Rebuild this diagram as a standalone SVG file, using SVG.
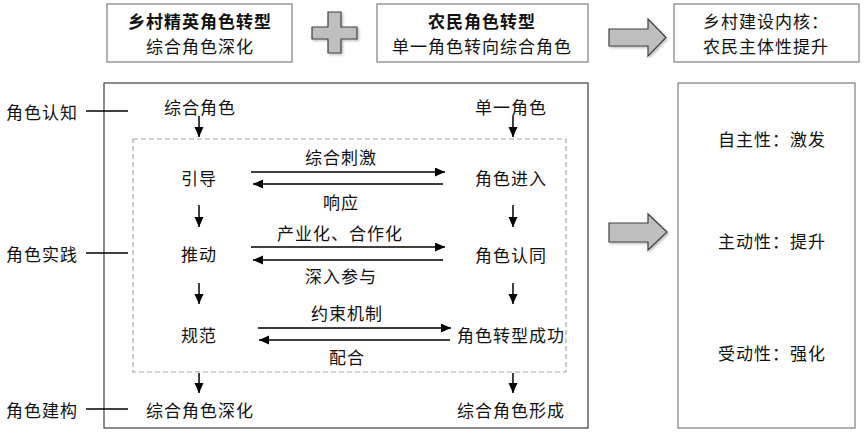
<svg xmlns="http://www.w3.org/2000/svg" width="864" height="437" viewBox="0 0 864 437">
<style>
text{font-family:"Noto Sans CJK SC","Noto Sans",sans-serif;font-size:17px;fill:#111;text-anchor:middle;dominant-baseline:central;letter-spacing:1px}
.b{font-weight:bold}
.box{fill:#fff;stroke:#7f7f7f;stroke-width:1.2}
.main{fill:#fff;stroke:#404040;stroke-width:1.2}
.dash{fill:none;stroke:#a6a6a6;stroke-width:1.2;stroke-dasharray:5,3}
.shape{fill:#bfbfbf;stroke:#404040;stroke-width:1.2}
.ln{stroke:#000;stroke-width:1.5;fill:none}
.arr{stroke:#000;stroke-width:1.5;fill:none;marker-end:url(#ah)}
</style>
<defs>
<marker id="ah" markerUnits="userSpaceOnUse" markerWidth="11" markerHeight="10" refX="10" refY="4.5" orient="auto">
<path d="M0,0 L10,4.5 L0,9 z" fill="#000"/>
</marker>
<filter id="sh" x="-20%" y="-20%" width="150%" height="150%">
<feDropShadow dx="1.5" dy="1.5" stdDeviation="1" flood-color="#000" flood-opacity="0.25"/>
</filter>
</defs>
<rect width="864" height="437" fill="#fff"/>

<g id="n-elite">
<rect class="box" x="107" y="4" width="185" height="58"/>
<text class="b" x="200" y="20">乡村精英角色转型</text>
<text x="200" y="45">综合角色深化</text>
</g>
<g id="plus">
<path class="shape" filter="url(#sh)" d="M328,12 H341 V27 H357 V39 H341 V53 H328 V39 H312 V27 H328 Z"/>
</g>
<g id="n-farmer">
<rect class="box" x="377" y="4" width="211" height="58"/>
<text class="b" x="482" y="20">农民角色转型</text>
<text x="482" y="45">单一角色转向综合角色</text>
</g>
<g id="arrow-top">
<path class="shape" filter="url(#sh)" d="M609,29 H648 V19 L666,37.5 L648,56 V46 H609 Z"/>
</g>
<g id="n-core">
<rect class="box" x="674" y="4" width="185" height="58"/>
<text x="766" y="20">乡村建设内核：</text>
<text x="766" y="45">农民主体性提升</text>
</g>

<g id="main-box">
<rect class="main" x="104" y="83" width="484" height="345"/>
<rect class="dash" x="133" y="139" width="433" height="233"/>
</g>

<g id="stage-labels">
<text x="42" y="111">角色认知</text>
<text x="42" y="253">角色实践</text>
<text x="42" y="409">角色建构</text>
</g>

<g id="n-left">
<text x="200" y="106">综合角色</text>
<text x="199" y="177">引导</text>
<text x="199" y="253">推动</text>
<text x="199" y="334">规范</text>
<text x="200" y="409">综合角色深化</text>
</g>
<g id="n-right">
<text x="511" y="106">单一角色</text>
<text x="511" y="177">角色进入</text>
<text x="511" y="254">角色认同</text>
<text x="511" y="334">角色转型成功</text>
<text x="511" y="409">综合角色形成</text>
</g>

<g id="n-result">
<rect class="box" x="678" y="83" width="177" height="345"/>
<text x="772" y="138">自主性：激发</text>
<text x="772" y="240">主动性：提升</text>
<text x="772" y="352">受动性：强化</text>
</g>
<g id="arrow-mid">
<path class="shape" filter="url(#sh)" d="M609,223 H648 V214 L667,232 L648,250 V242 H609 Z"/>
</g>

<g id="connectors">
<line class="ln" x1="86" y1="111" x2="128" y2="111"/>
<line class="ln" x1="86" y1="253" x2="128" y2="253"/>
<line class="ln" x1="86" y1="409" x2="128" y2="409"/>

<line class="arr" x1="199" y1="116" x2="199" y2="137"/>
<line class="arr" x1="513" y1="116" x2="513" y2="137"/>
<line class="arr" x1="199" y1="205" x2="199" y2="227"/>
<line class="arr" x1="513" y1="205" x2="513" y2="227"/>
<line class="arr" x1="199" y1="283" x2="199" y2="304"/>
<line class="arr" x1="513" y1="283" x2="513" y2="304"/>
<line class="arr" x1="199" y1="373" x2="199" y2="393"/>
<line class="arr" x1="513" y1="373" x2="513" y2="393"/>

<line class="arr" x1="251" y1="172" x2="445" y2="172"/>
<line class="arr" x1="443" y1="184" x2="253" y2="184"/>
<line class="arr" x1="251" y1="247" x2="445" y2="247"/>
<line class="arr" x1="443" y1="260" x2="253" y2="260"/>
<line class="arr" x1="258" y1="328" x2="451" y2="328"/>
<line class="arr" x1="450" y1="340" x2="259" y2="340"/>

<text x="341" y="156">综合刺激</text>
<text x="341" y="201">响应</text>
<text x="340" y="232">产业化、合作化</text>
<text x="341" y="275">深入参与</text>
<text x="347" y="312">约束机制</text>
<text x="347" y="356">配合</text>
</g>
</svg>
